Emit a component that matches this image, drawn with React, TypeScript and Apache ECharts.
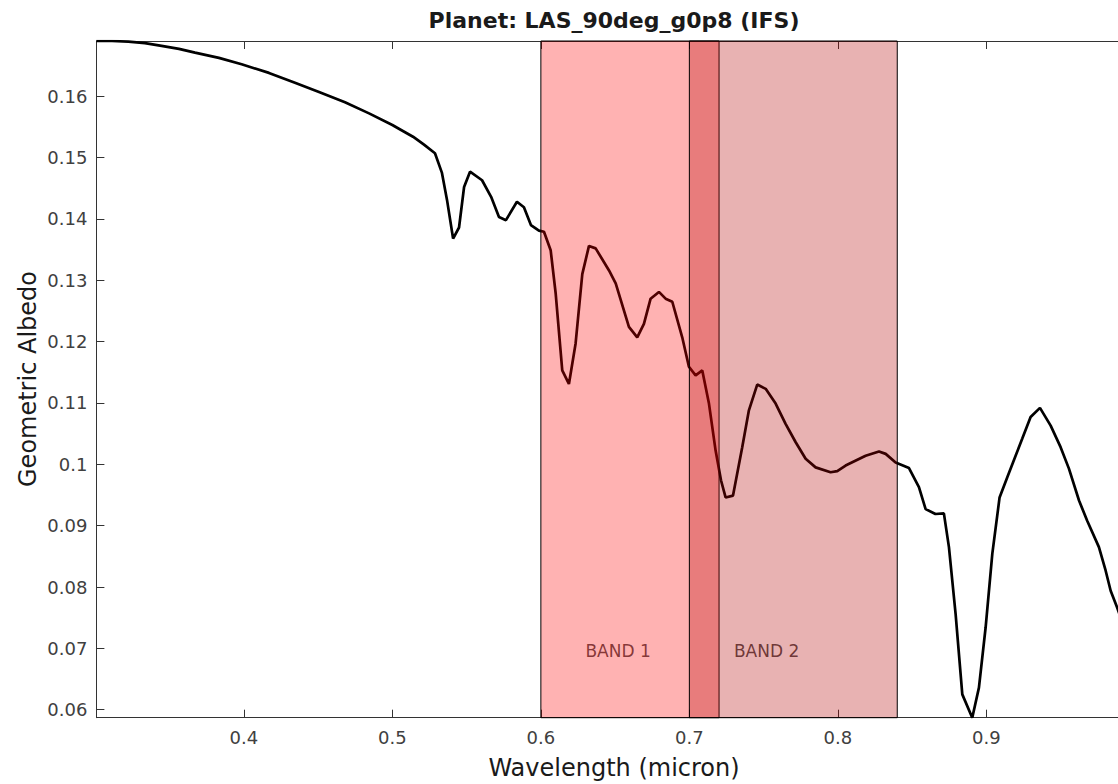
import React, { useEffect, useRef } from "react";
import * as echarts from "echarts";

const wavelength = [
  0.3007, 0.3112, 0.3222, 0.3334, 0.3446, 0.3563, 0.3671, 0.3832, 0.3985, 0.4169,
  0.4344, 0.4506, 0.4681, 0.4843, 0.5, 0.5044, 0.5139, 0.5213,
  0.5287, 0.5334, 0.5368, 0.5409, 0.5449, 0.5483, 0.5523, 0.5604, 0.5665, 0.5718,
  0.5765, 0.5839, 0.5886, 0.5933, 0.5987, 0.6021, 0.6066, 0.61, 0.6144, 0.6189,
  0.6234, 0.6279, 0.6324, 0.6369, 0.6459, 0.6504, 0.6593, 0.6649, 0.6694, 0.6739,
  0.6795, 0.684, 0.6885, 0.6952, 0.6997, 0.7042, 0.7087, 0.7132, 0.7177, 0.7213,
  0.7244, 0.7294, 0.7356, 0.7401, 0.7457, 0.7514, 0.7581, 0.7648, 0.7716, 0.7783,
  0.785, 0.7951, 0.7996, 0.8052, 0.8187, 0.8277, 0.8322, 0.8389, 0.8479, 0.8546,
  0.8591, 0.8657, 0.8714, 0.8748, 0.8793, 0.8838, 0.8905, 0.895, 0.8995, 0.904,
  0.9089, 0.9141, 0.9197, 0.9242, 0.9298, 0.9361, 0.9433, 0.95, 0.9556, 0.9624,
  0.9679, 0.9758, 0.9803, 0.9837, 0.988, 0.9926, 0.9995,
];

const albedo = [
  0.169, 0.169, 0.1689, 0.16865, 0.1682, 0.16772, 0.1671, 0.16625, 0.1652, 0.1638,
  0.1622, 0.1607, 0.159, 0.1572, 0.1553, 0.1547, 0.1534, 0.1521,
  0.1507, 0.1475, 0.1431, 0.1368, 0.1386, 0.1452, 0.1477, 0.1463, 0.1436, 0.1403,
  0.1398, 0.1428, 0.1419, 0.139, 0.1381, 0.1379, 0.1349, 0.1278, 0.1153, 0.1131,
  0.1197, 0.131, 0.1356, 0.1352, 0.1316, 0.1295, 0.1224, 0.1207, 0.1229, 0.127,
  0.1281, 0.127, 0.1265, 0.1207, 0.1159, 0.1145, 0.1153, 0.1099, 0.1022, 0.0974,
  0.0946, 0.0949, 0.1028, 0.1088, 0.113, 0.1123, 0.1099, 0.1066, 0.1036, 0.1009,
  0.0995, 0.0987, 0.0989, 0.0998, 0.1014, 0.1021, 0.1017, 0.1003, 0.0994, 0.0963,
  0.0927, 0.0919, 0.092, 0.0865, 0.0756, 0.0625, 0.0587, 0.0636, 0.0734, 0.0854,
  0.0946, 0.0979, 0.1014, 0.1042, 0.1077, 0.1092, 0.1063, 0.1028, 0.0993, 0.0941,
  0.0908, 0.0865, 0.0827, 0.0794, 0.0767, 0.0736, 0.0704,
];

const xTicks = [0.4, 0.5, 0.6, 0.7, 0.8, 0.9];
const yTicks = [0.06, 0.07, 0.08, 0.09, 0.1, 0.11, 0.12, 0.13, 0.14, 0.15, 0.16];

const bandNames = ["BAND 1", "BAND 2"];
const bandStart = [0.6, 0.7];
const bandEnd = [0.72, 0.84];
const bandColors = ["rgba(255,0,0,0.3)", "rgba(178,0,0,0.3)"];
const bandLabelX = [0.63, 0.73];
const bandLabelY = [0.07, 0.07];

const X_MIN = 0.3007;
const X_MAX = 0.9995;
const Y_MIN = 0.0587;
const Y_MAX = 0.169;

const FONT = '"DejaVu Sans", "Liberation Sans", sans-serif';

const fmt = (v: number) => String(parseFloat(Number(v).toFixed(3)));

export default function App() {
  const ref = useRef<HTMLDivElement>(null);

  useEffect(() => {
    if (!ref.current) return;
    const chart = echarts.init(ref.current, null, { renderer: "svg" });

    const gridLeft = 96.4;
    const gridTop = 41;
    const gridWidth = 1485 * (X_MAX - X_MIN);
    const gridHeight = 676.7;

    const axisLineStyle = { color: "#333333", width: 1 };

    const xBase = {
      type: "value" as const,
      min: X_MIN,
      max: X_MAX,
      splitLine: { show: false },
      axisLine: { show: true, onZero: false, lineStyle: axisLineStyle },
      axisTick: {
        show: true,
        inside: true,
        length: 8,
        customValues: xTicks,
        lineStyle: axisLineStyle,
      },
    };

    chart.setOption({
      animation: false,
      backgroundColor: "#ffffff",
      grid: { left: gridLeft, top: gridTop, width: gridWidth, height: gridHeight },
      xAxis: [
        {
          ...xBase,
          position: "bottom",
          axisLabel: {
            show: true,
            customValues: xTicks,
            margin: 11,
            fontSize: 18,
            fontFamily: FONT,
            color: "#404040",
            formatter: (v: number) => fmt(v),
          },
        },
        {
          ...xBase,
          position: "top",
          axisLabel: { show: false },
        },
      ],
      yAxis: [
        {
          type: "value",
          min: Y_MIN,
          max: Y_MAX,
          splitLine: { show: false },
          axisLine: { show: true, onZero: false, lineStyle: axisLineStyle },
          axisTick: {
            show: true,
            inside: true,
            length: 8,
            customValues: yTicks,
            lineStyle: axisLineStyle,
          },
          axisLabel: {
            show: true,
            customValues: yTicks,
            margin: 9,
            fontSize: 18,
            fontFamily: FONT,
            color: "#404040",
            formatter: (v: number) => fmt(v),
          },
        },
      ],
      graphic: [
        {
          type: "text",
          x: 614,
          y: 20,
          style: {
            text: "Planet: LAS_90deg_g0p8 (IFS)",
            fontSize: 22,
            fontWeight: "bold",
            fontFamily: FONT,
            fill: "#1a1a1a",
            align: "center",
            verticalAlign: "middle",
          },
        },
        {
          type: "text",
          x: 614,
          y: 768,
          style: {
            text: "Wavelength (micron)",
            fontSize: 24,
            fontFamily: FONT,
            fill: "#1a1a1a",
            align: "center",
            verticalAlign: "middle",
          },
        },
        {
          type: "text",
          x: 28,
          y: 379,
          rotation: Math.PI / 2,
          style: {
            text: "Geometric Albedo",
            fontSize: 24,
            fontFamily: FONT,
            fill: "#1a1a1a",
            align: "center",
            verticalAlign: "middle",
          },
        },
      ],
      series: [
        {
          type: "line",
          xAxisIndex: 0,
          yAxisIndex: 0,
          data: wavelength.map((w, i) => [w, albedo[i]]),
          showSymbol: false,
          symbol: "none",
          lineStyle: { color: "#000000", width: 2.7 },
          z: 2,
          markArea: {
            silent: true,
            z: 10,
            label: { show: false },
            data: bandNames.map((_, i) => [
              {
                xAxis: bandStart[i],
                itemStyle: {
                  color: bandColors[i],
                  borderColor: "#000000",
                  borderWidth: 1,
                },
              },
              { xAxis: bandEnd[i] },
            ]),
          },
        },
        {
          type: "scatter",
          xAxisIndex: 0,
          yAxisIndex: 0,
          symbolSize: 0,
          z: 3,
          silent: true,
          data: bandLabelX.map((x, i) => [x, bandLabelY[i]]),
          label: {
            show: true,
            position: "right",
            distance: 0,
            offset: [0, 3],
            fontSize: 17,
            fontFamily: FONT,
            color: "#222222",
            formatter: (p: any) => bandNames[p.dataIndex],
          },
        },
      ],
    });

    return () => chart.dispose();
  }, []);

  return (
    <div
      style={{
        position: "fixed",
        left: 0,
        top: 0,
        width: 1118,
        height: 784,
        overflow: "hidden",
        background: "#ffffff",
      }}
    >
      <div ref={ref} style={{ width: 1160, height: 784 }} />
    </div>
  );
}
